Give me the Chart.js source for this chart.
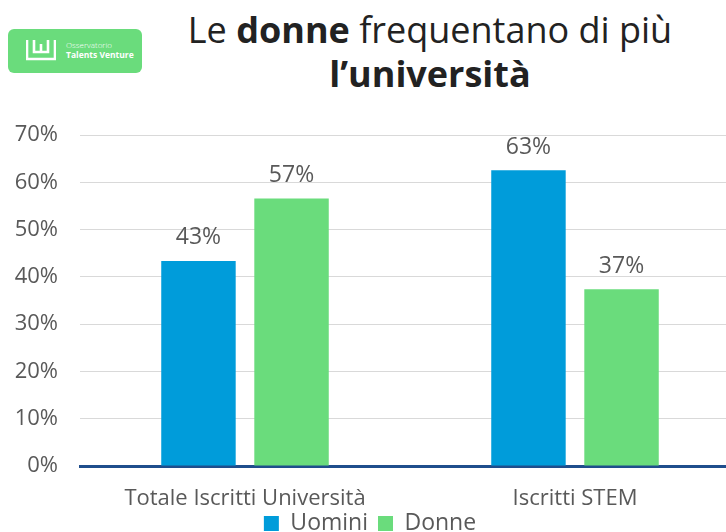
<!DOCTYPE html>
<html lang="it">
<head>
  <meta charset="UTF-8" />
  <title>Le donne frequentano di più l'università</title>
  <style>
    html, body { margin: 0; padding: 0; overflow: hidden; background: #fff; }
    body { width: 726px; height: 532px; position: relative; font-family: "Open Sans", sans-serif; }
    #logo {
      position: absolute; left: 8px; top: 29px; width: 134px; height: 44px;
      background: #6adc7c; border-radius: 6px; color: #fff;
    }
    #logo .mark { position: absolute; left: 18px; top: 10px; width: 30px; height: 22px; }
    #logo .t1 { position: absolute; left: 58px; top: 10px; font-size: 8px; font-weight: 300; }
    #logo .t2 { position: absolute; left: 58px; top: 20px; font-size: 8.5px; font-weight: 700; }
    #title {
      position: absolute; left: 130px; width: 600px; top: 8px;
      text-align: center; font-size: 36px; line-height: 44px; color: #222; font-weight: 400;
    }
    #title b { font-weight: 700; }
    #wrap { position: absolute; left: 0; top: 100px; width: 740px; height: 435px; }
  </style>
</head>
<body>

<div id="logo">
  <svg class="mark" viewBox="0 0 30 22">
    <path d="M1 1 V20 H29 V1 M8 1 V13 H22 V1 M15 5 V13" fill="none" stroke="#fff" stroke-width="2.6"/>
  </svg>
  <div class="t1">Osservatorio</div>
  <div class="t2">Talents Venture</div>
</div>
<div id="title">Le <b>donne</b> frequentano di più<br><b>l’università</b></div>

<div id="wrap"><canvas id="chart"></canvas></div>

<script src="https://cdn.jsdelivr.net/npm/chart.js"></script>
<script>
const categories = ['Totale Iscritti Università', 'Iscritti STEM'];
const uomini = [43.4, 62.6];
const donne = [56.6, 37.4];
const seriesNames = ['Uomini', 'Donne'];

const grey = '#595959';
const font = '"Open Sans"';

// etichette sopra le barre
const valueLabels = {
  id: 'valueLabels',
  afterDatasetsDraw(chart) {
    const ctx = chart.ctx;
    ctx.save();
    ctx.font = '23px ' + font;
    ctx.fillStyle = grey;
    ctx.textAlign = 'center';
    ctx.textBaseline = 'middle';
    chart.data.datasets.forEach((ds, i) => {
      chart.getDatasetMeta(i).data.forEach((bar, j) => {
        ctx.fillText(Math.round(ds.data[j]) + '%', bar.x, bar.y - 23);
      });
    });
    ctx.restore();
  }
};

// legenda più compatta, un po' più in alto
const tightLegend = {
  id: 'tightLegend',
  afterInit(chart) {
    const lg = chart.legend;
    const fit = lg.fit.bind(lg);
    lg.fit = function () { fit(); this.height = 22; };
  },
  afterLayout(chart) {
    chart.legend.top -= 11;
    chart.legend.height += 11;
  }
};

new Chart(document.getElementById('chart'), {
  type: 'bar',
  data: {
    labels: categories,
    datasets: [
      { label: seriesNames[0], data: uomini, backgroundColor: '#009cda' },
      { label: seriesNames[1], data: donne, backgroundColor: '#6adc7c' }
    ]
  },
  options: {
    responsive: true,
    maintainAspectRatio: false,
    animation: false,
    layout: { padding: { top: 22, left: 0, bottom: 0 } },
    categoryPercentage: 0.564,
    barPercentage: 0.8,
    plugins: {
      tooltip: { enabled: false },
      legend: {
        position: 'bottom',
        labels: {
          color: grey,
          font: { family: font, size: 23 },
          boxWidth: 15, boxHeight: 15, padding: 10
        }
      }
    },
    scales: {
      x: {
        grid: { display: false, drawTicks: false },
        border: { color: '#1f4e8c', width: 3 },
        afterFit: s => { s.height = 47; },
        ticks: { color: grey, font: { family: font, size: 22 }, padding: 20 }
      },
      y: {
        min: 0, max: 70,
        grid: { color: '#d9d9d9', drawTicks: false },
        border: { display: false },
        afterFit: s => { s.width = 80; },
        ticks: {
          stepSize: 10, color: grey, padding: 22,
          font: { family: font, size: 22 },
          callback: v => v + '%'
        }
      }
    }
  },
  plugins: [valueLabels, tightLegend]
});
</script>

</body>
</html>
